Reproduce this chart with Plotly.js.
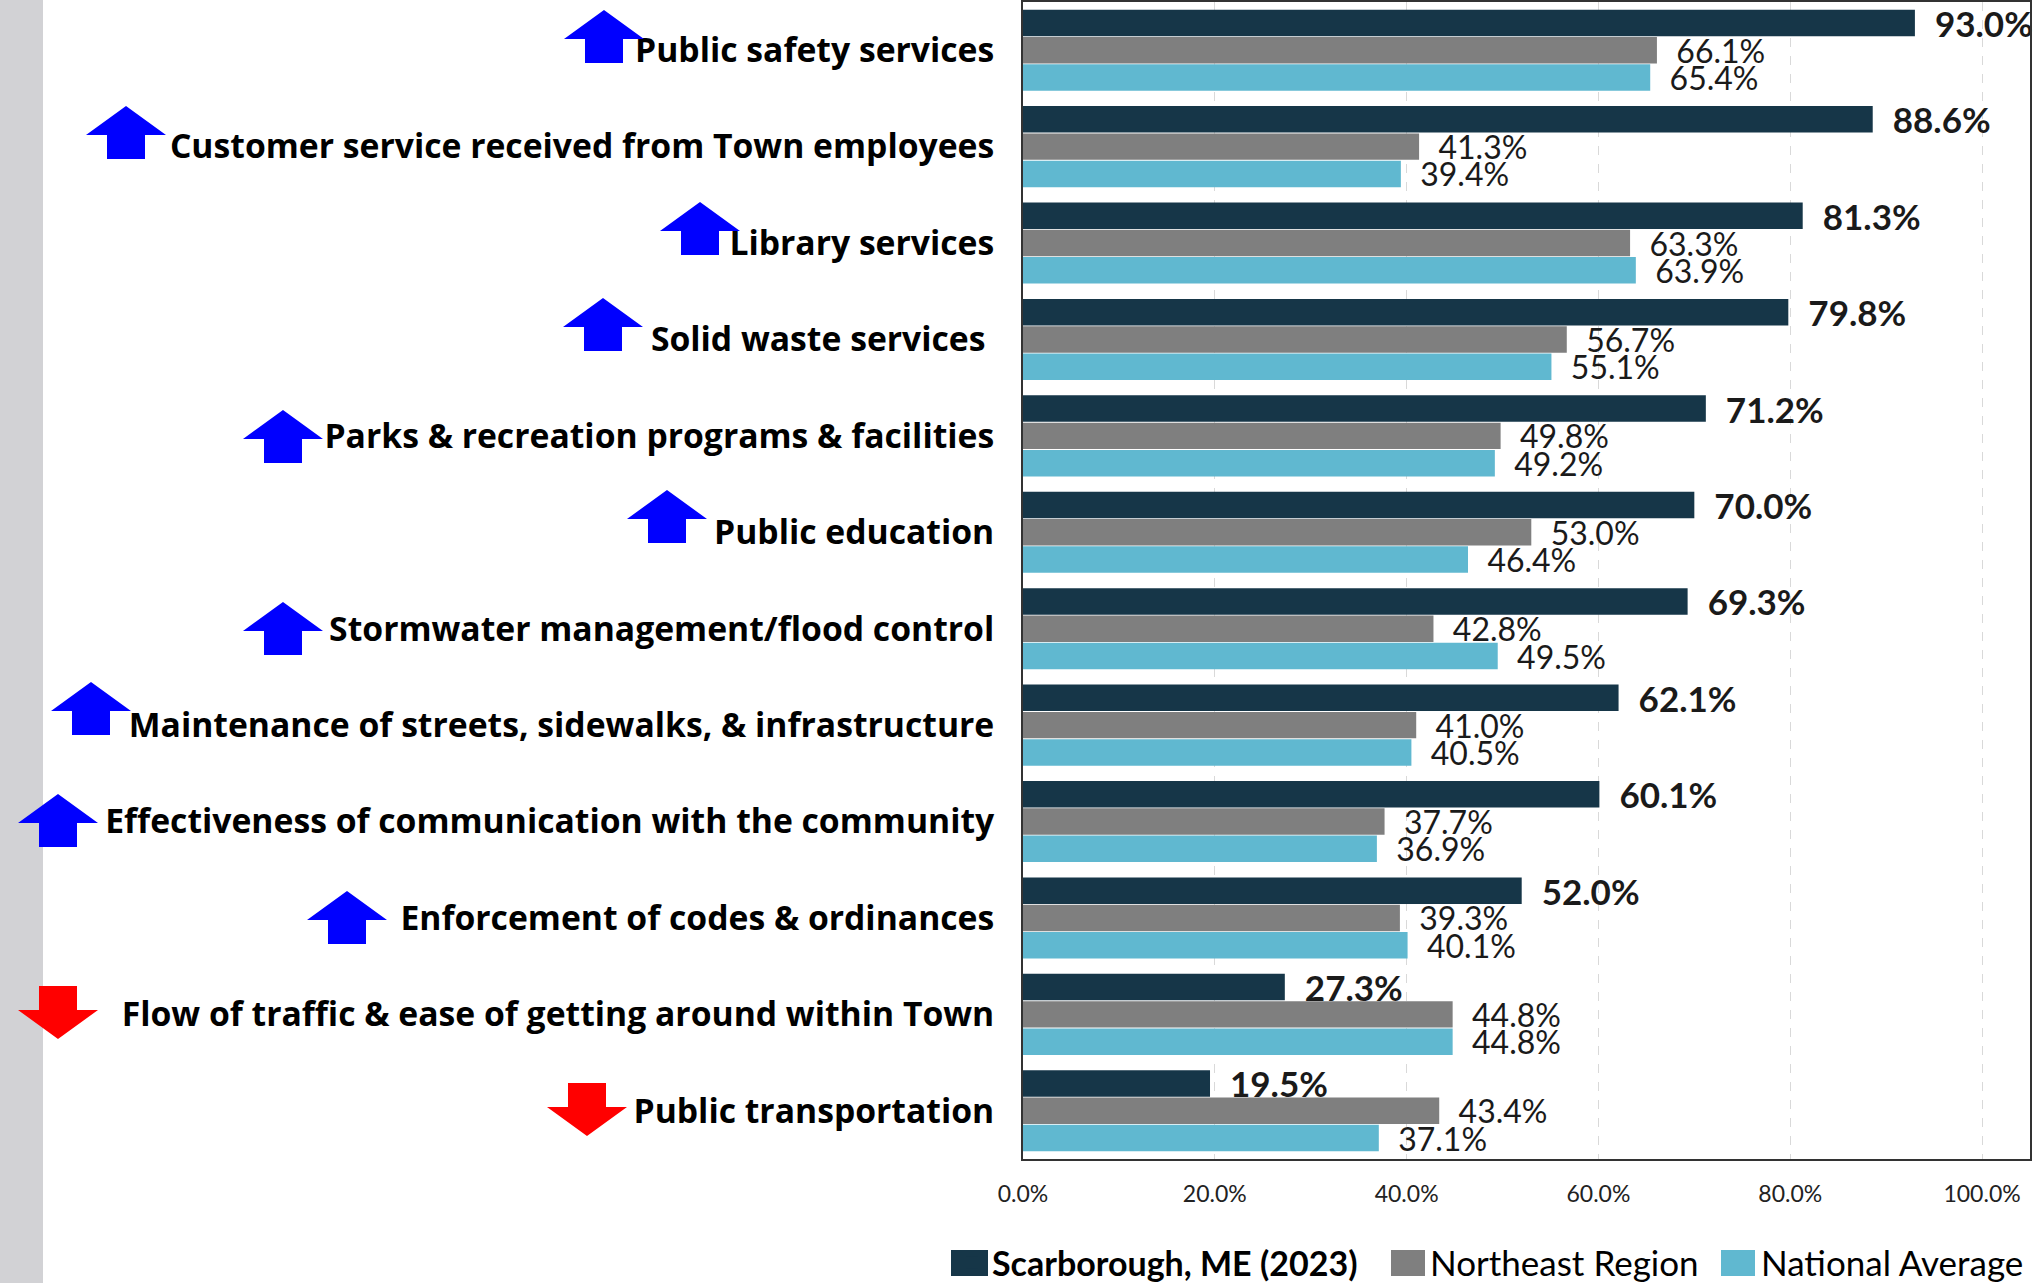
<!DOCTYPE html>
<html><head><meta charset="utf-8">
<script src="https://cdn.plot.ly/plotly-3.0.1.min.js"></script>
<style>html,body{margin:0;padding:0;background:#fff}</style></head>
<body><div id="chart" style="width:2038px;height:1283px"></div>
<script>
const categories = ["Public safety services","Customer service received from Town employees","Library services","Solid waste services\u00a0","Parks & recreation programs & facilities","Public education","Stormwater management/flood control","Maintenance of streets, sidewalks, & infrastructure","Effectiveness of communication with the community","Enforcement of codes & ordinances","Flow of traffic & ease of getting around within Town","Public transportation"];
const scarborough = [93.0,88.6,81.3,79.8,71.2,70.0,69.3,62.1,60.1,52.0,27.3,19.5];
const northeast = [66.1,41.3,63.3,56.7,49.8,53.0,42.8,41.0,37.7,39.3,44.8,43.4];
const national = [65.4,39.4,63.9,55.1,49.2,46.4,49.5,40.5,36.9,40.1,44.8,37.1];
const seriesNames = ["<b>Scarborough, ME (2023)</b>","Northeast Region","National Average"];
const xTicks = [0,20,40,60,80,100];

const W=2038,H=1283,L=1023,R=2030,T=2,B=1159;
const FONT='Lato, Carlito, sans-serif';
const px=x=>(x-L)/(R-L), py=y=>(B-y)/(B-T);
const upArrows=[[604,10],[126,106],[700,202],[603,298],[283,410],[667,490],[283,602],[91,682],[58,794],[347,891]];
const downArrows=[[58,986],[587,1083]];
const legendSwatches=[[951,988,'#163648'],[1391,1425,'#7f7f7f'],[1721,1755,'#60b8d0']];
function arrow(cx,top,dir,color){
  const h=53,hw=40,sw=19,hh=29;
  let pts = dir>0
    ? [[cx,top],[cx+hw,top+hh],[cx+sw,top+hh],[cx+sw,top+h],[cx-sw,top+h],[cx-sw,top+hh],[cx-hw,top+hh]]
    : [[cx-sw,top],[cx+sw,top],[cx+sw,top+h-hh],[cx+hw,top+h-hh],[cx,top+h],[cx-hw,top+h-hh],[cx-sw,top+h-hh]];
  const path='M'+pts.map(p=>px(p[0]).toFixed(5)+','+py(p[1]).toFixed(5)).join('L')+'Z';
  return {type:'path',xref:'paper',yref:'paper',path,fillcolor:color,line:{width:0}};
}
const shapes=[
 {type:'rect',xref:'paper',yref:'paper',x0:px(0),x1:px(43),y0:py(0),y1:py(H),fillcolor:'#d2d2d5',line:{width:0}},
 ...upArrows.map(a=>arrow(a[0],a[1],1,'#0000ff')),
 ...downArrows.map(a=>arrow(a[0],a[1],-1,'#ff0000')),
 ...legendSwatches.map(s=>({type:'rect',xref:'paper',yref:'paper',x0:px(s[0]),x1:px(s[1]),y0:py(1250),y1:py(1276),fillcolor:s[2],line:{width:0}}))
];
function bar(vals,name,color,bold,legend){
  return {type:'bar',orientation:'h',y:categories,x:vals,name,legend,
    marker:{color,line:{width:0}},
    texttemplate:(bold?'<b>\u00a0\u00a0%{x:.1f}%</b>':'\u00a0\u00a0%{x:.1f}%'),
    textposition:'outside',cliponaxis:false,constraintext:'none',
    outsidetextfont:{family:FONT,size:bold?35:32,color:'#1a1a1a'},hoverinfo:'skip'};
}
const traces=[bar(scarborough,seriesNames[0],'#163648',true,'legend'),bar(northeast,seriesNames[1],'#7f7f7f',false,'legend2'),bar(national,seriesNames[2],'#60b8d0',false,'legend3')];
const leg=(x,size)=>({orientation:'h',xref:'container',yref:'container',x:x/W,xanchor:'left',y:1-1263/H,yanchor:'middle',font:{family:FONT,size,color:'#000'},itemwidth:30,bgcolor:'rgba(0,0,0,0)'});
const layout={
 width:W,height:H,margin:{l:L,r:W-R,t:T,b:H-B,pad:0},paper_bgcolor:'#fff',plot_bgcolor:'#fff',
 barmode:'group',bargap:0.15,bargroupgap:0.03,showlegend:true,shapes,
 font:{family:FONT,color:'#000'},
 xaxis:{range:[0,105],tickvals:xTicks,ticktext:xTicks.map(v=>v.toFixed(1)+'%'),showgrid:true,gridcolor:'#d9d9d9',griddash:'dash',gridwidth:1,
   zeroline:false,showline:true,mirror:true,linecolor:'#333',linewidth:2,ticks:'',tickfont:{family:FONT,size:23,color:'#222'},ticklabelstandoff:13},
 yaxis:{type:'category',autorange:'reversed',showgrid:false,zeroline:false,showline:true,mirror:true,linecolor:'#333',linewidth:2,ticks:'',
   tickfont:{family:'"Open Sans", sans-serif',size:33.7,weight:700,color:'#000'},ticklabelstandoff:20},
 legend:leg(952,34),legend2:leg(1390,35),legend3:leg(1721,35)
};
Plotly.newPlot('chart',traces,layout,{displayModeBar:false,responsive:false});
</script></body></html>
